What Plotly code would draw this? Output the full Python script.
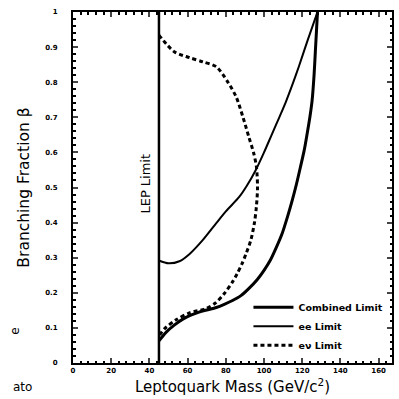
import plotly.graph_objects as go

# Data
lep_mass = 45.0

comb_mass = [45, 48.8, 53, 57.5, 62, 66, 70, 75, 79.2, 83.5, 87.9, 92, 96.5, 100, 103.5, 106.5, 109.5,
             112.2, 114.8, 117, 119.1, 121, 122.6, 124, 125.2, 126.2, 126.9, 127.5, 128]
comb_beta = [0.063, 0.088, 0.108, 0.125, 0.137, 0.145, 0.151, 0.158, 0.167, 0.178, 0.192, 0.212, 0.238,
             0.264, 0.295, 0.33, 0.369, 0.415, 0.464, 0.51, 0.559, 0.605, 0.654, 0.70, 0.749, 0.82,
             0.89, 0.95, 1.0]

ee_mass = [45, 50, 55.7, 60.9, 67.9, 74.8, 80, 87, 91, 95.7, 100, 104, 108, 111.5, 115, 118.2, 123, 128]
ee_beta = [0.292, 0.284, 0.29, 0.31, 0.35, 0.397, 0.432, 0.473, 0.505, 0.55, 0.6, 0.65, 0.70, 0.745,
           0.795, 0.844, 0.922, 1.0]

enu_mass = [45, 53, 61, 68, 75, 81, 85.5, 89, 92, 94.5, 96, 96.6, 96, 95, 93.1, 90.5, 88.5, 86, 83.5,
            79.2, 74.8, 69.6, 61, 54, 48, 45.3]
enu_beta = [0.934, 0.887, 0.87, 0.858, 0.844, 0.801, 0.757, 0.70, 0.645, 0.60, 0.56, 0.50, 0.445, 0.40,
            0.35, 0.31, 0.283, 0.255, 0.231, 0.198, 0.172, 0.155, 0.143, 0.123, 0.098, 0.079]

x_ticks = [0, 20, 40, 60, 80, 100, 120, 140, 160]
y_ticks = [0, 0.1, 0.2, 0.3, 0.4, 0.5, 0.6, 0.7, 0.8, 0.9, 1]
y_tick_text = ["0", "0.1", "0.2", "0.3", "0.4", "0.5", "0.6", "0.7", "0.8", "0.9", "1"]

FONT = "DejaVu Sans"

fig = go.Figure()
fig.add_trace(go.Scatter(x=[lep_mass, lep_mass], y=[0, 1], mode="lines",
                         line=dict(color="black", width=2.5), showlegend=False, hoverinfo="skip"))
fig.add_trace(go.Scatter(x=comb_mass, y=comb_beta, mode="lines", name="Combined Limit",
                         line=dict(color="black", width=3, shape="spline", smoothing=0.8)))
fig.add_trace(go.Scatter(x=ee_mass, y=ee_beta, mode="lines", name="ee Limit",
                         line=dict(color="black", width=2, shape="spline", smoothing=0.8)))
fig.add_trace(go.Scatter(x=enu_mass, y=enu_beta, mode="lines", name="eν Limit",
                         line=dict(color="black", width=3, dash="4px,3px", shape="spline", smoothing=0.8)))

fig.add_annotation(x=38.0, y=0.51, text="LEP Limit", showarrow=False, textangle=-90,
                   font=dict(family=FONT, size=13, color="black"))

fig.update_layout(
    width=399, height=399,
    margin=dict(l=73, r=5, t=12, b=36),
    plot_bgcolor="white", paper_bgcolor="white",
    font=dict(family=FONT, color="black"),
    showlegend=True,
    legend=dict(x=0.55, y=0.2, xanchor="left", yanchor="top", bgcolor="rgba(0,0,0,0)",
                font=dict(family=FONT, size=9.5, weight="bold"), itemwidth=40, tracegroupgap=0),
    xaxis=dict(range=[0, 167], tickvals=x_ticks, ticks="inside", ticklen=5, tickwidth=1.5,
               tickfont=dict(size=7, weight="bold"), showgrid=False, zeroline=False,
               showline=True, linecolor="black", linewidth=2, mirror="ticks",
               minor=dict(dtick=4, ticks="inside", ticklen=2.5, tickcolor="black"),
               title=dict(text="Leptoquark Mass (GeV/c<sup>2</sup>)", font=dict(size=15), standoff=7)),
    yaxis=dict(range=[0, 1], tickvals=y_ticks, ticktext=y_tick_text, ticks="inside", ticklen=5, tickwidth=1.5,
               tickfont=dict(size=7, weight="bold"), showgrid=False, zeroline=False, ticklabelstandoff=12,
               showline=True, linecolor="black", linewidth=2, mirror="ticks",
               minor=dict(dtick=0.02, ticks="inside", ticklen=2.5, tickcolor="black"),
               title=dict(text="Branching Fraction β", font=dict(size=15.5), standoff=12)),
)

fig.add_annotation(x=0.0, y=0.085, xref="paper", yref="paper", text="e", showarrow=False,
                   xshift=-67, yshift=-4, textangle=-90, font=dict(size=12))
fig.add_annotation(x=0.0, y=0.0, xref="paper", yref="paper", text="ato", showarrow=False,
                   xshift=-62, yshift=-33, font=dict(size=12))

fig.write_html("out.html")
